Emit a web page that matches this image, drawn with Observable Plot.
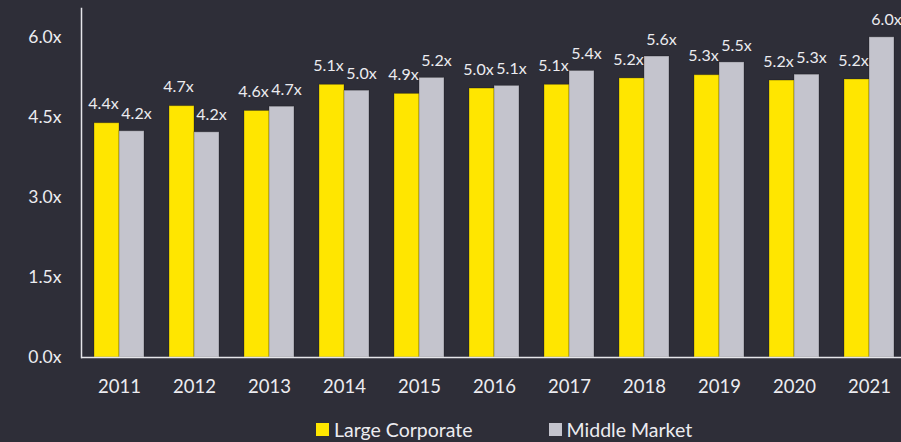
<!DOCTYPE html>
<html>
<head>
<meta charset="utf-8">
<script src="https://cdn.jsdelivr.net/npm/d3@7"></script>
<script src="https://cdn.jsdelivr.net/npm/@observablehq/plot@0.6"></script>
<style>
  html, body { margin: 0; padding: 0; background: #2e2e38; }
  #wrap { position: relative; width: 901px; height: 442px; overflow: hidden; background: #2e2e38; font-family: Lato, "Open Sans", sans-serif; }
  #legend { position: absolute; left: 316px; top: 418px; display: flex; align-items: center; color: #ececf0; font-size: 19.5px; }
  #legend .item { display: flex; align-items: center; }
  #legend .item + .item { margin-left: 76px; }
  #legend .sw { width: 13px; height: 13px; margin-right: 5px; }
</style>
</head>
<body>
<div id="wrap"><div id="chart"></div><div id="legend"></div></div>
<script>
const years = ["2011","2012","2013","2014","2015","2016","2017","2018","2019","2020","2021"];
const seriesNames = ["Large Corporate", "Middle Market"];
const largeCorporate = [4.39, 4.71, 4.62, 5.11, 4.94, 5.04, 5.11, 5.23, 5.29, 5.19, 5.21];
const middleMarket   = [4.24, 4.22, 4.70, 5.00, 5.24, 5.09, 5.37, 5.64, 5.53, 5.30, 6.00];
const yTicks = [0, 1.5, 3.0, 4.5, 6.0];
const colors = ["#ffe600", "#c4c4cd"];

const lc = years.map((y, i) => ({year: y, value: largeCorporate[i], series: seriesNames[0]}));
const mm = years.map((y, i) => ({year: y, value: middleMarket[i], series: seriesNames[1]}));
const fmt = d => d.value.toFixed(1) + "x";
const textColor = "#ececf0";

const chart = Plot.plot({
  width: 901,
  height: 410,
  marginLeft: 81,
  marginRight: 0,
  marginTop: 8,
  marginBottom: 53,
  style: {background: "transparent", color: textColor, fontFamily: "Lato, 'Open Sans', sans-serif"},
  x: {domain: years, range: [81, 907.5], paddingInner: 1/3, paddingOuter: 1/6, label: null},
  y: {domain: [0, 6.54], label: null},
  marks: [
    Plot.barY(lc, {x: "year", y: "value", fill: colors[0], insetRight: 25, stroke: "#000", strokeOpacity: 0.25, strokeWidth: 1}),
    Plot.barY(mm, {x: "year", y: "value", fill: colors[1], insetLeft: 25, stroke: "#000", strokeOpacity: 0.25, strokeWidth: 1}),
    Plot.text(lc, {x: "year", y: "value", text: fmt, dx: -16, dy: -19, fill: textColor, fontSize: 16}),
    Plot.text(mm, {x: "year", y: "value", text: fmt, dx: 17, dy: -17, fill: textColor, fontSize: 16}),
    Plot.axisX({tickSize: 0, tickPadding: 22, fontSize: 18.5, fill: textColor}),
    Plot.axisY({ticks: yTicks, tickFormat: d => d.toFixed(1) + "x", tickSize: 0, tickPadding: 20, fontSize: 17.5, fill: textColor}),
    Plot.ruleY([0], {stroke: "#e6e6ea", strokeWidth: 1.5}),
    Plot.frame({anchor: "left", stroke: "#e6e6ea", strokeWidth: 1.5})
  ]
});
document.getElementById("chart").appendChild(chart);

const legend = document.getElementById("legend");
seriesNames.forEach((name, i) => {
  const item = document.createElement("div");
  item.className = "item";
  const sw = document.createElement("span");
  sw.className = "sw";
  sw.style.background = colors[i];
  const label = document.createElement("span");
  label.textContent = name;
  item.appendChild(sw);
  item.appendChild(label);
  legend.appendChild(item);
});
</script>
</body>
</html>
